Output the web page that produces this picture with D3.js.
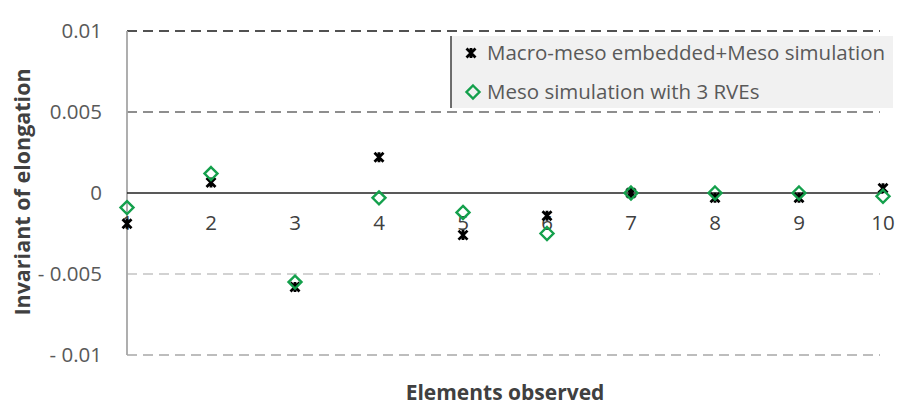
<!DOCTYPE html>
<html><head><meta charset="utf-8">
<script src="https://cdn.jsdelivr.net/npm/d3@7"></script>
<style>body{margin:0;background:#fff}svg{display:block}</style>
</head><body>
<svg id="c" width="898" height="407"></svg>
<script>
const elements = [1,2,3,4,5,6,7,8,9,10];
const macroMeso = [-0.0019,0.00065,-0.0058,0.0022,-0.0026,-0.0014,0.0,-0.0003,-0.0003,0.0003];
const mesoRVE = [-0.0009,0.0012,-0.0055,-0.0003,-0.0012,-0.0025,0.0,0.0,0.0,-0.0002];
const yTicks = [0.01,0.005,0,-0.005,-0.01];
const yTickLabels = ["0.01","0.005","0","- 0.005","- 0.01"];
const seriesNames = ["Macro-meso embedded+Meso simulation","Meso simulation with 3 RVEs"];

const svg = d3.select("#c");
const x = d3.scaleLinear().domain([1,10]).range([127,883]);
const y = d3.scaleLinear().domain([-0.01,0.01]).range([355,31]);
const font = "'Open Sans', sans-serif";

// gridlines
const gridColors = {"0.01":"#1a1a1a","0.005":"#6a6a6a","-0.005":"#c4c4c4","-0.01":"#a8a8a8"};
svg.append("g").selectAll("line").data(yTicks.filter(d=>d!==0)).join("line")
  .attr("x1",x(1)).attr("x2",880).attr("y1",d=>y(d)).attr("y2",d=>y(d))
  .attr("stroke",d=>gridColors[String(d)]).attr("stroke-width",1.3)
  .attr("stroke-dasharray","10,6");

// legend box
svg.append("rect").attr("x",451).attr("y",36).attr("width",442).attr("height",72).attr("fill","#f1f1f1");
svg.append("line").attr("x1",451).attr("x2",451).attr("y1",36).attr("y2",108).attr("stroke","#333").attr("stroke-width",1.4);

// y axis line
svg.append("line").attr("x1",x(1)).attr("x2",x(1)).attr("y1",y(0.01)).attr("y2",y(-0.01))
  .attr("stroke","#a6a6a6").attr("stroke-width",1.8);

// zero line
svg.append("line").attr("x1",x(1)).attr("x2",883).attr("y1",y(0)).attr("y2",y(0))
  .attr("stroke","#222").attr("stroke-width",1.3);

// y tick labels
svg.append("g").selectAll("text").data(yTicks).join("text")
  .attr("x",102).attr("y",d=>y(d)).attr("dy","0.36em").attr("text-anchor","end")
  .attr("font-family",font).attr("font-size",20.5).attr("fill","#595959")
  .text((d,i)=>yTickLabels[i]);

// x tick labels
svg.append("g").selectAll("text").data(elements).join("text")
  .attr("x",d=>x(d)).attr("y",230).attr("text-anchor","middle")
  .attr("font-family",font).attr("font-size",20.5).attr("fill","#404040")
  .text(d=>d);

// axis titles
svg.append("text").attr("transform","translate(30,192) rotate(-90)").attr("text-anchor","middle")
  .attr("font-family",font).attr("font-size",21.5).attr("font-weight","bold").attr("fill","#404040")
  .text("Invariant of elongation");
svg.append("text").attr("x",505).attr("y",400).attr("text-anchor","middle")
  .attr("font-family",font).attr("font-size",21).attr("font-weight","bold").attr("fill","#404040")
  .text("Elements observed");

const starPath = "M-4.5,-4.5L4.5,4.5M-4.5,4.5L4.5,-4.5M0,-5L0,5";
const diamondPath = "M0,-6.5L6.5,0L0,6.5L-6.5,0Z";
const green = "#14a04c";

// series markers
svg.append("g").selectAll("path").data(elements).join("path")
  .attr("transform",(d,i)=>`translate(${x(d)},${y(macroMeso[i])})`)
  .attr("d",starPath).attr("stroke","#000").attr("stroke-width",2.8).attr("fill","none");
svg.append("g").selectAll("path").data(elements).join("path")
  .attr("transform",(d,i)=>`translate(${x(d)},${y(mesoRVE[i])})`)
  .attr("d",diamondPath).attr("stroke",green).attr("stroke-width",2.4).attr("fill","none");

// legend entries
const leg = svg.append("g");
leg.append("path").attr("transform","translate(471,53)").attr("d",starPath)
  .attr("stroke","#000").attr("stroke-width",2.8).attr("fill","none");
leg.append("text").attr("x",487).attr("y",60)
  .attr("font-family",font).attr("font-size",20.5).attr("fill","#595959").text(seriesNames[0]);
leg.append("path").attr("transform","translate(473,92)").attr("d",diamondPath)
  .attr("stroke",green).attr("stroke-width",2.4).attr("fill","none");
leg.append("text").attr("x",487).attr("y",99)
  .attr("font-family",font).attr("font-size",20.5).attr("fill","#595959").text(seriesNames[1]);
</script>
</body></html>
